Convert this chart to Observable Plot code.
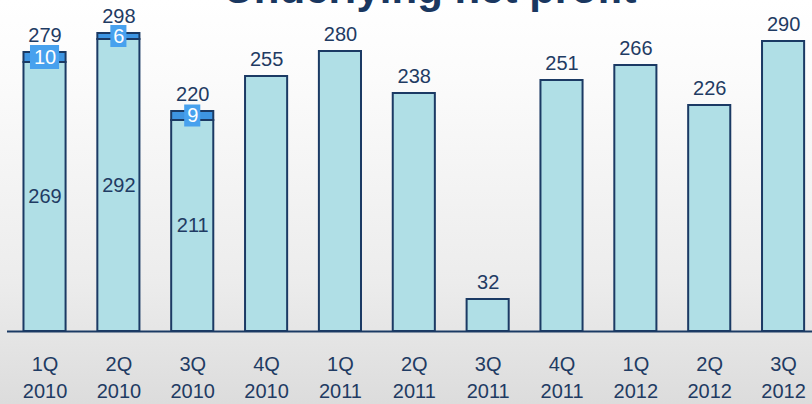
<!DOCTYPE html>
<html>
<head>
<meta charset="utf-8">
<script src="https://cdn.jsdelivr.net/npm/d3@7"></script>
<script src="https://cdn.jsdelivr.net/npm/@observablehq/plot@0.6"></script>
<style>
  html, body { margin: 0; padding: 0; }
  body { width: 812px; height: 404px; overflow: hidden; background: linear-gradient(#ffffff 0%, #fbfbfb 20%, #ececec 70%, #dcdcdc 100%); font-family: "Liberation Sans", Arial, sans-serif; }
  #wrap { position: relative; width: 812px; height: 404px; overflow: hidden; }
  #title { position: absolute; left: 0; width: 860px; top: -32px; text-align: center; font-size: 42px; line-height: 42px; font-weight: bold; color: #1a3760; white-space: nowrap; }
  #chart { position: absolute; left: 0; top: 0; }
</style>
</head>
<body>
<div id="wrap">
  <div id="chart"></div>
  <div id="title">Underlying net profit</div>
</div>
<script>
const quarters = ["1Q 2010","2Q 2010","3Q 2010","4Q 2010","1Q 2011","2Q 2011","3Q 2011","4Q 2011","1Q 2012","2Q 2012","3Q 2012"];
const baseValues = [269, 292, 211, 255, 280, 238, 32, 251, 266, 226, 290];
const extraValues = [10, 6, 9, 0, 0, 0, 0, 0, 0, 0, 0];
const totalValues = [279, 298, 220, 255, 280, 238, 32, 251, 266, 226, 290];

const data = quarters.map((q, i) => ({q, base: baseValues[i], extra: extraValues[i], total: totalValues[i]}));
const stacked = data.filter(d => d.extra > 0);

const navy = "#1b3a64";
const textColor = "#1f3b63";
const fillLight = "#b0dfe6";
const segBlue = "#3e95e2";
const boxBlue = "#47a1ee";
const font = "Liberation Sans, Arial, sans-serif";

const plot = Plot.plot({
  width: 812,
  height: 404,
  marginTop: 0,
  marginBottom: 73,
  marginLeft: 7,
  marginRight: 0,
  style: {background: "transparent", fontFamily: font, overflow: "visible"},
  x: {domain: quarters, range: [7.6, 820], paddingInner: 0.43, paddingOuter: 0.215, round: false, label: null},
  y: {domain: [0, 331], axis: null},
  marks: [
    Plot.axisX({
      tickSize: 0,
      tickPadding: 21,
      fontSize: 20,
      lineHeight: 1.32,
      fill: textColor,
      tickFormat: d => d.replace(" ", "\n"),
      label: null
    }),
    Plot.barY(data, {x: "q", y1: 0, y2: "base", fill: fillLight, stroke: navy, strokeWidth: 2}),
    Plot.barY(stacked, {x: "q", y1: "base", y2: "total", fill: segBlue, stroke: navy, strokeWidth: 2}),
    Plot.ruleY([0], {stroke: navy, strokeWidth: 2}),
    Plot.barY(stacked.filter(d => String(d.extra).length > 1), {x: "q", y1: d => (d.base + d.total) / 2 - 12, y2: d => (d.base + d.total) / 2 + 12, fill: boxBlue, insetLeft: 6.5, insetRight: 6.5}),
    Plot.barY(stacked.filter(d => String(d.extra).length === 1), {x: "q", y1: d => (d.base + d.total) / 2 - 11, y2: d => (d.base + d.total) / 2 + 11, fill: boxBlue, insetLeft: 13, insetRight: 13}),
    Plot.text(stacked, {x: "q", y: d => (d.base + d.total) / 2, text: d => String(d.extra), fill: "white", fontSize: 20, lineAnchor: "middle"}),
    Plot.text(stacked, {x: "q", y: d => d.base / 2, text: d => String(d.base), fill: textColor, fontSize: 20, lineAnchor: "middle"}),
    Plot.text(data, {x: "q", y: "total", text: d => String(d.total), fill: textColor, fontSize: 20, lineAnchor: "bottom", dy: -11})
  ]
});
document.getElementById("chart").appendChild(plot);
</script>
</body>
</html>
